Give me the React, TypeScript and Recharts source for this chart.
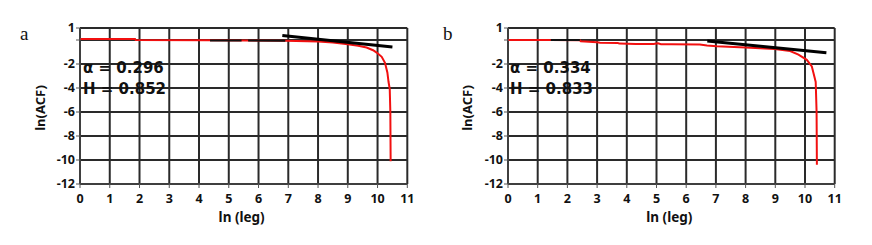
import React from 'react';
import { LineChart, Line, XAxis, YAxis, CartesianGrid, Label } from 'recharts';

type Pt = { x: number; y: number };

const xTicks = [0, 1, 2, 3, 4, 5, 6, 7, 8, 9, 10, 11];
const yTicks = [1, 0, -2, -4, -6, -8, -10, -12];

const acfA: Pt[] = [
  { x: 0, y: 0.08 }, { x: 1.85, y: 0.08 }, { x: 1.87, y: 0.0 }, { x: 4.4, y: -0.03 },
  { x: 6.9, y: -0.07 }, { x: 8.0, y: -0.13 }, { x: 8.5, y: -0.2 }, { x: 9.0, y: -0.35 },
  { x: 9.35, y: -0.48 }, { x: 9.63, y: -0.63 }, { x: 9.85, y: -0.85 }, { x: 9.97, y: -1.05 },
  { x: 10.14, y: -1.4 }, { x: 10.25, y: -1.9 }, { x: 10.33, y: -2.7 }, { x: 10.37, y: -3.5 },
  { x: 10.41, y: -4.1 }, { x: 10.43, y: -6 }, { x: 10.44, y: -10.1 },
];
const overlayA1: Pt[] = [{ x: 4.37, y: -0.05 }, { x: 5.43, y: -0.05 }];
const overlayA2: Pt[] = [{ x: 5.65, y: -0.05 }, { x: 6.9, y: -0.07 }];
const fitA: Pt[] = [{ x: 6.8, y: 0.38 }, { x: 10.5, y: -0.58 }];

const acfB: Pt[] = [
  { x: 0, y: 0 }, { x: 1.44, y: 0 }, { x: 2.42, y: -0.02 }, { x: 2.45, y: -0.1 },
  { x: 3.0, y: -0.18 }, { x: 3.1, y: -0.22 }, { x: 3.7, y: -0.25 }, { x: 3.75, y: -0.3 },
  { x: 4.3, y: -0.33 }, { x: 4.9, y: -0.34 }, { x: 5.05, y: -0.28 }, { x: 5.15, y: -0.35 },
  { x: 5.5, y: -0.36 }, { x: 6.46, y: -0.38 }, { x: 6.7, y: -0.45 }, { x: 7.03, y: -0.52 },
  { x: 8.0, y: -0.62 }, { x: 8.98, y: -0.76 }, { x: 9.5, y: -0.92 }, { x: 9.78, y: -1.22 },
  { x: 10.06, y: -1.65 }, { x: 10.23, y: -2.2 }, { x: 10.3, y: -2.9 }, { x: 10.36, y: -3.5 },
  { x: 10.37, y: -4.3 }, { x: 10.39, y: -6 }, { x: 10.4, y: -10.4 },
];
const overlayB1: Pt[] = [{ x: 1.44, y: 0 }, { x: 2.42, y: 0 }];
const fitB: Pt[] = [{ x: 6.71, y: -0.08 }, { x: 10.72, y: -1.06 }];

const tickFont = { fill: '#111', fontSize: 12.5, fontWeight: 700, fontFamily: 'Noto Sans' };
const RED = '#f21010';

type PanelProps = {
  left: number;
  yAxisWidth: number;
  rightMargin: number;
  yLabelX: number;
  acf: Pt[];
  overlays: Pt[][];
  fit: Pt[];
};

function Panel({ left, yAxisWidth, rightMargin, yLabelX, acf, overlays, fit }: PanelProps) {
  return (
    <div style={{ position: 'absolute', left, top: 0 }}>
      <LineChart width={436} height={245} margin={{ top: 28, right: rightMargin, bottom: 0, left: 0 }}>
        <CartesianGrid stroke="#2a2a2a" strokeWidth={2} strokeOpacity={1} />
        <XAxis
          type="number"
          dataKey="x"
          domain={[0, 11]}
          ticks={xTicks}
          interval={0}
          allowDataOverflow
          height={61}
          tick={tickFont}
          tickSize={4}
          tickMargin={6}
          stroke="#555"
        >
          <Label
            content={(p: any) => {
              const vb = p.viewBox || { x: yAxisWidth, y: 184, width: 436 - yAxisWidth - rightMargin, height: 61 };
              return (
                <text
                  x={vb.x + vb.width / 2 - 2}
                  y={vb.y + 38}
                  textAnchor="middle"
                  fill="#111"
                  fontSize={13.5}
                  fontWeight={700}
                  fontFamily="Noto Sans"
                >
                  ln (leg)
                </text>
              );
            }}
          />
        </XAxis>
        <YAxis
          type="number"
          dataKey="y"
          domain={[-12, 1]}
          ticks={yTicks}
          interval={0}
          allowDataOverflow
          width={yAxisWidth}
          tick={tickFont}
          tickSize={4}
          tickMargin={1}
          stroke="#555"
          tickFormatter={(v: number) => (v === 0 ? '' : String(v))}
        >
          <Label
            content={(p: any) => {
              const vb = p.viewBox || { x: 0, y: 28, width: yAxisWidth, height: 156 };
              const cx = vb.x + yLabelX;
              const cy = vb.y + vb.height / 2 + 2;
              return (
                <text
                  x={cx}
                  y={cy}
                  transform={`rotate(-90, ${cx}, ${cy})`}
                  textAnchor="middle"
                  fill="#111"
                  fontSize={13}
                  fontWeight={700}
                  fontFamily="Noto Sans"
                >
                  ln(ACF)
                </text>
              );
            }}
          />
        </YAxis>
        <Line data={acf} dataKey="y" type="linear" stroke={RED} strokeWidth={2} dot={false} isAnimationActive={false} />
        {overlays.map((seg, i) => (
          <Line key={i} data={seg} dataKey="y" type="linear" stroke="#111" strokeWidth={2} dot={false} isAnimationActive={false} />
        ))}
        <Line data={fit} dataKey="y" type="linear" stroke="#000" strokeWidth={3} dot={false} isAnimationActive={false} />
      </LineChart>
    </div>
  );
}

const annoStyle = { fontFamily: 'DejaVu Sans', fontWeight: 700, fontSize: 15, fill: '#111' } as const;

export default function App() {
  return (
    <div style={{ position: 'absolute', left: 0, top: 0, width: 872, height: 245, background: '#fff' }}>
      <Panel left={0} yAxisWidth={80} rightMargin={28.7} yLabelX={44.6} acf={acfA} overlays={[overlayA1, overlayA2]} fit={fitA} />
      <Panel left={436} yAxisWidth={72} rightMargin={37.3} yLabelX={36.3} acf={acfB} overlays={[overlayB1]} fit={fitB} />
      <svg width={872} height={245} style={{ position: 'absolute', left: 0, top: 0, pointerEvents: 'none' }}>
        <text x={20} y={39.5} fontFamily="Liberation Serif" fontSize={19} fill="#111">a</text>
        <text x={443} y={39.5} fontFamily="Liberation Serif" fontSize={19} fill="#111">b</text>
        <text x={83} y={72.7} style={annoStyle}>α = 0.296</text>
        <text x={83} y={94.3} style={annoStyle}>H = 0.852</text>
        <text x={510} y={72.7} style={annoStyle}>α = 0.334</text>
        <text x={510} y={94.3} style={annoStyle}>H = 0.833</text>
      </svg>
    </div>
  );
}
